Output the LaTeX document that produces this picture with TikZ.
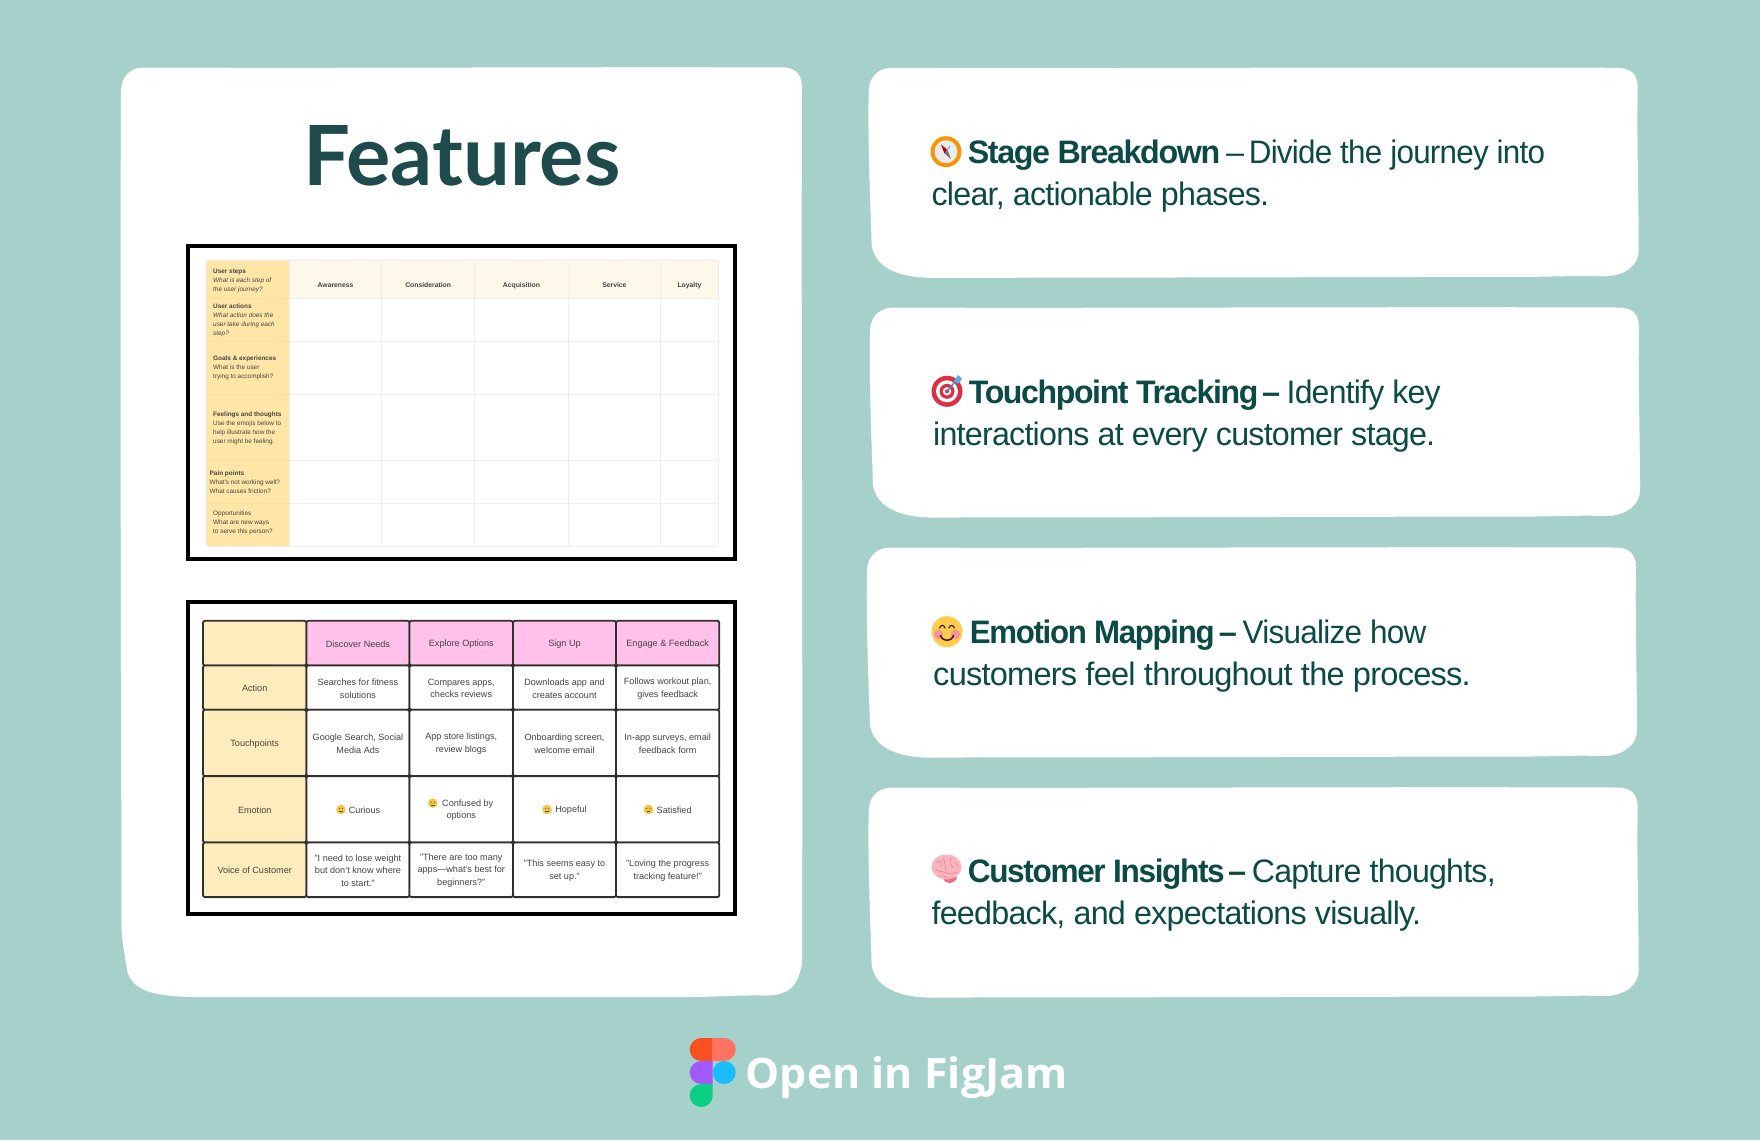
\documentclass[tikz,border=0pt]{standalone}
\usepackage{fontspec}
\setmainfont{Liberation Sans}
\newfontfamily\cardfont[LetterSpace=-2.4,BoldFeatures={LetterSpace=-4.3}]{Liberation Sans}
\newfontfamily\titlefont{Lato}
\newfontfamily\footfont{Open Sans}
\definecolor{bgteal}{HTML}{A6D0CA}
\definecolor{titlecol}{HTML}{1F4B4C}
\definecolor{cardtxt}{HTML}{0C4A46}
\definecolor{yellowA}{HTML}{FFE6A6}
\definecolor{yellowAl}{HTML}{F7E0A0}
\definecolor{creamA}{HTML}{FDF8EA}
\definecolor{gridA}{HTML}{EEEEEE}
\definecolor{yellowB}{HTML}{FEECBC}
\definecolor{pinkB}{HTML}{FFC0EA}
\definecolor{lineB}{HTML}{303030}
\definecolor{txtA}{HTML}{444444}
\definecolor{txtB}{HTML}{444444}
\definecolor{figA}{HTML}{F9501F}
\definecolor{figB}{HTML}{FF7262}
\definecolor{figC}{HTML}{A259FF}
\definecolor{figD}{HTML}{1ABCFE}
\definecolor{figE}{HTML}{0ACF83}
\definecolor{faceY}{HTML}{FFCC4D}
\definecolor{faceS}{HTML}{F5C542}
\definecolor{cheek}{HTML}{F78FA0}
\definecolor{compassO}{HTML}{F79400}
\definecolor{targetR}{HTML}{DD2E44}
\definecolor{dartB}{HTML}{55ACEE}
\definecolor{brainP}{HTML}{F8B5BE}
\definecolor{brainL}{HTML}{EA8595}
\definecolor{brainS}{HTML}{EE6A80}
\tikzset{
  cardshape/.style={fill=white,draw=none},
  cardline/.style={anchor=base west,inner sep=0pt,text=cardtxt,font=\cardfont\fontsize{32.5}{36}\selectfont},
  frameA/.style={draw=black,line width=4pt,fill=white},
  cellA/.style={draw=gridA,line width=1pt,fill=white,inner sep=0pt},
  headA/.style={cellA,fill=creamA,text=txtA,font=\bfseries\fontsize{6.8}{9}\selectfont,text depth=0pt},
  sideA/.style={draw=yellowAl,line width=.8pt,fill=yellowA,inner sep=0pt},
  labelA/.style={anchor=west,inner sep=0pt,align=left,text=txtA,yshift=-.6pt,font=\fontsize{6.4}{9}\selectfont},
  cellB/.style={draw=lineB,line width=1.8pt,rounded corners=2pt,fill=white,inner sep=0pt,align=center,text=txtB,font=\fontsize{9.1}{12.8}\selectfont},
  sideB/.style={cellB,fill=yellowB},
  headB/.style={cellB,fill=pinkB},
}
\newcommand{\fitw}[2]{\resizebox{#1pt}{\height}{#2}}
\newcommand{\cellbox}[7]{\node[#6,minimum width={(#4-#2)*1pt},minimum height={(#5-#3)*1pt}] (#1) at ({(#2+#4)/2},{(#3+#5)/2}) {};
  \if\relax\detokenize{#7}\relax\else
    \node[#6,draw=none,fill=none,yshift=-.8pt] (#1t) at (#1) {#7};
  \fi}
\newcommand{\rightcard}[2]{%
  \fill[cardshape,shift={(#1,#2)}] (22,0) .. controls (200,1) and (500,-1) .. (748,0)
    .. controls (763,0) and (769,7) .. (769,20)
    .. controls (768,70) and (770,130) .. (770,183)
    .. controls (770,198) and (755,208.5) .. (736,208.5)
    .. controls (700,207.5) and (680,209.5) .. (640,209)
    .. controls (400,209.5) and (200,210) .. (58,210)
    .. controls (30,209) and (7,200) .. (3,178)
    .. controls (1,120) and (-1,70) .. (0,22)
    .. controls (1,9) and (9,1) .. (22,0) -- cycle;}
\newcommand{\tinyface}[2]{%
  \fill[faceS] (#1,#2) circle[radius=4.8pt];
  \fill[black!70] (#1-1.6,#2-1) circle[radius=.6pt] (#1+1.6,#2-1) circle[radius=.6pt];
  \draw[black!70,line width=.5pt] (#1-1.8,#2+1.7) -- (#1+1.8,#2+1.7);}
\begin{document}
\begin{tikzpicture}[x=1pt,y=-1pt]
\useasboundingbox (0,0) rectangle (1760,1140);
\fill[bgteal] (0,0) rectangle (1760,1140);
% left card
\fill[cardshape] (142,67.5) .. controls (350,68.5) and (600,66.5) .. (785,67.5)
  .. controls (796,68.5) and (802,75) .. (802,87)
  .. controls (801,300) and (803,650) .. (802,963)
  .. controls (798,990) and (785,996) .. (762,995.5)
  .. controls (740,995) and (715,997) .. (688,997)
  .. controls (500,997) and (300,997) .. (192,997)
  .. controls (140,996) and (128,985) .. (126,963)
  .. controls (124,950) and (122,940) .. (121.5,927)
  .. controls (121,650) and (120,300) .. (121,90)
  .. controls (122,76) and (130,68.5) .. (142,67.5) -- cycle;
\node[anchor=base,inner sep=0pt,text=titlecol,font=\titlefont\bfseries\fontsize{83}{100}\selectfont] (title) at (462,185) {Features};
\begin{scope}[yshift=-.8pt]
% table A
\draw[frameA] (188,245.3) rectangle (735,558);
\begin{scope}
\clip[rounded corners=3pt] (206,259.3) rectangle (718.4,545.7);
\cellbox{a00}{206}{259.3}{289.5}{297.7}{sideA}{}
\cellbox{a10}{206}{297.7}{289.5}{340.3}{sideA}{}
\cellbox{a20}{206}{340.3}{289.5}{393.3}{sideA}{}
\cellbox{a30}{206}{393.3}{289.5}{459.7}{sideA}{}
\cellbox{a40}{206}{459.7}{289.5}{502.3}{sideA}{}
\cellbox{a50}{206}{502.3}{289.5}{545.7}{sideA}{}
\foreach \xa/\xb/\c in {289.5/381.7/1,381.7/474.6/2,474.6/568.3/3,568.3/660.5/4,660.5/718.4/5}{
  \foreach \ya/\yb/\r in {297.7/340.3/1,340.3/393.3/2,393.3/459.7/3,459.7/502.3/4,502.3/545.7/5}{
    \cellbox{a\r\c}{\xa}{\ya}{\xb}{\yb}{cellA}{}
  }
}
\cellbox{a01}{289.5}{259.3}{381.7}{297.7}{headA}{\raisebox{-7pt}{Awareness}}
\cellbox{a02}{381.7}{259.3}{474.6}{297.7}{headA}{\raisebox{-7pt}{Consideration}}
\cellbox{a03}{474.6}{259.3}{568.3}{297.7}{headA}{\raisebox{-7pt}{Acquisition}}
\cellbox{a04}{568.3}{259.3}{660.5}{297.7}{headA}{\raisebox{-7pt}{Service}}
\cellbox{a05}{660.5}{259.3}{718.4}{297.7}{headA}{\raisebox{-7pt}{Loyalty}}
\end{scope}
\draw[gridA,line width=1pt,rounded corners=3pt] (206,259.3) rectangle (718.4,545.7);
\node[labelA] (la0) at (213,279.3) {\textbf{User steps}\\\textit{What is each step of}\\\textit{the user journey?}};
\node[labelA] (la1) at (213,319.3) {\textbf{User actions}\\\textit{What action does the}\\\textit{user take during each}\\\textit{step?}};
\node[labelA] (la2) at (213,366) {\textbf{Goals \& experiences}\\What is the user\\trying to accomplish?};
\node[labelA] (la3) at (213,426.7) {\textbf{Feelings and thoughts}\\Use the emojis below to\\help illustrate how the\\user might be feeling.};
\node[labelA] (la4) at (209.5,481) {\textbf{Pain points}\\What's not working well?\\What causes friction?};
\node[labelA] (la5) at (213,521.7) {Opportunities\\What are new ways\\to serve this person?};
% table B
\draw[frameA] (188,601.3) rectangle (735,913.3);
\cellbox{b00}{203}{620}{306.4}{664.7}{sideB}{}
\cellbox{b01}{306.4}{620}{409.5}{664.7}{headB}{Discover Needs}
\cellbox{b02}{409.5}{620}{513}{664.7}{headB}{Explore Options}
\cellbox{b03}{513}{620}{616}{664.7}{headB}{Sign Up}
\cellbox{b04}{616}{620}{719.3}{664.7}{headB}{Engage \& Feedback}
\cellbox{b10}{203}{664.7}{306.4}{709}{sideB}{Action}
\cellbox{b11}{306.4}{664.7}{409.5}{709}{cellB}{Searches for fitness\\solutions}
\cellbox{b12}{409.5}{664.7}{513}{709}{cellB}{Compares apps,\\checks reviews}
\cellbox{b13}{513}{664.7}{616}{709}{cellB}{Downloads app and\\creates account}
\cellbox{b14}{616}{664.7}{719.3}{709}{cellB}{Follows workout plan,\\gives feedback}
\cellbox{b20}{203}{709}{306.4}{775.3}{sideB}{Touchpoints}
\cellbox{b21}{306.4}{709}{409.5}{775.3}{cellB}{Google Search, Social\\Media Ads}
\cellbox{b22}{409.5}{709}{513}{775.3}{cellB}{App store listings,\\review blogs}
\cellbox{b23}{513}{709}{616}{775.3}{cellB}{Onboarding screen,\\welcome email}
\cellbox{b24}{616}{709}{719.3}{775.3}{cellB}{In-app surveys, email\\feedback form}
\cellbox{b30}{203}{775.3}{306.4}{841.7}{sideB}{Emotion}
\cellbox{b31}{306.4}{775.3}{409.5}{841.7}{cellB}{\hspace*{13pt}Curious}
\cellbox{b32}{409.5}{775.3}{513}{841.7}{cellB}{\hspace*{13pt}Confused by\\options}
\cellbox{b33}{513}{775.3}{616}{841.7}{cellB}{\hspace*{13pt}Hopeful}
\cellbox{b34}{616}{775.3}{719.3}{841.7}{cellB}{\hspace*{13pt}Satisfied}
\cellbox{b40}{203}{841.7}{306.4}{896.3}{sideB}{Voice of Customer}
\cellbox{b41}{306.4}{841.7}{409.5}{896.3}{cellB}{"I need to lose weight\\but don't know where\\to start."}
\cellbox{b42}{409.5}{841.7}{513}{896.3}{cellB}{"There are too many\\apps—what's best for\\beginners?"}
\cellbox{b43}{513}{841.7}{616}{896.3}{cellB}{"This seems easy to\\set up."}
\cellbox{b44}{616}{841.7}{719.3}{896.3}{cellB}{"Loving the progress\\tracking feature!"}
\tinyface{341}{808.7}
\tinyface{432.8}{802.3}
\tinyface{547}{808.7}
\tinyface{648.4}{808.7}
\end{scope}
% right cards
\rightcard{868.7}{67.8}
\rightcard{870}{307.5}
\rightcard{867}{547.5}
\rightcard{868.7}{787.5}
% card 1
\fill[compassO] (946,151.7) circle[radius=15.5pt];
\fill[white!92!black] (946,151.7) circle[radius=11.5pt];
\fill[red!75!black] (941,144.5) -- (947.6,150) -- (944.4,153.4) -- cycle;
\fill[black!55] (951,159) -- (944.4,153.4) -- (947.6,150) -- cycle;
\draw[dartB,line width=1pt] (950,146) -- (946.5,151);
\node[cardline] (c1a) at (967.6,163.2) {\fitw{251}{\textbf{Stage Breakdown}}};
\node[cardline] (c1d) at (1226,163.2) {–};
\node[cardline] (c1r) at (1248.6,163.2) {\fitw{296.3}{Divide the journey into}};
\node[cardline] (c1b) at (931.4,205.5) {\fitw{337.6}{clear, actionable phases.}};
% card 2
\fill[targetR] (947,391.3) circle[radius=15.5pt];
\fill[white] (947,391.3) circle[radius=11pt];
\fill[targetR] (947,391.3) circle[radius=7.5pt];
\fill[white] (947,391.3) circle[radius=4.2pt];
\fill[targetR] (947,391.3) circle[radius=2pt];
\draw[dartB!80!black,line width=1.4pt] (947,391.3) -- (958,378);
\fill[dartB] (954,381) -- (958,375) -- (962,379) -- (958,384) -- cycle;
\node[cardline] (c2a) at (968.7,403.2) {\fitw{288}{\textbf{Touchpoint Tracking}}};
\node[cardline] (c2d) at (1262,403.2) {\textbf{–}};
\node[cardline] (c2r) at (1286.4,403.2) {\fitw{154}{Identify key}};
\node[cardline] (c2b) at (933,445.5) {\fitw{502}{interactions at every customer stage.}};
% card 3
\fill[faceY] (947,631.7) circle[radius=15.5pt];
\fill[cheek] (938.5,634.5) circle[radius=4.6pt] (955.5,634.5) circle[radius=4.6pt];
\draw[black!75!orange,line width=1.2pt,line cap=round] (939.5,628) .. controls (941,624.5) and (944,624.5) .. (945,628);
\draw[black!75!orange,line width=1.2pt,line cap=round] (949,628) .. controls (950,624.5) and (953,624.5) .. (954.5,628);
\draw[black!75!orange,line width=1.6pt,line cap=round] (940.5,635.5) .. controls (943,642) and (951,642) .. (953.5,635.5);
\node[cardline] (c3a) at (969.7,643.2) {\fitw{243.3}{\textbf{Emotion Mapping}}};
\node[cardline] (c3d) at (1218.6,643.2) {\textbf{–}};
\node[cardline] (c3r) at (1242.5,643.2) {\fitw{183.6}{Visualize how}};
\node[cardline] (c3b) at (933,685.5) {\fitw{537.5}{customers feel throughout the process.}};
% card 4
\fill[brainS] (943,878) .. controls (945,885) and (955,885) .. (957,877) -- cycle;
\fill[brainP] (946.5,867) ellipse[x radius=15pt,y radius=12.5pt];
\draw[brainL,line width=.6pt] (936,863) .. controls (939,859) and (942,862) .. (941,867)
  (943,858) .. controls (946,862) and (944,866) .. (946,870)
  (950,858) .. controls (952,862) and (949,866) .. (954,868)
  (956,861) .. controls (955,864) and (957,866) .. (959,866)
  (935,870) .. controls (940,872) and (943,871) .. (947,873)
  (947,873) .. controls (951,875) and (954,873) .. (958,872)
  (939,876) .. controls (942,875) and (944,876) .. (947,878);
\node[cardline] (c4a) at (967.6,882.2) {\fitw{255.6}{\textbf{Customer Insights}}};
\node[cardline] (c4d) at (1228,882.2) {\textbf{–}};
\node[cardline] (c4r) at (1251.7,882.2) {\fitw{243.8}{Capture thoughts,}};
\node[cardline] (c4b) at (931.4,924.5) {\fitw{489.6}{feedback, and expectations visually.}};
% Figma logo
\fill[figA] (712.7,1038) [rounded corners=11.5pt] -- (689.7,1038) -- (689.7,1061) [sharp corners] -- (712.7,1061) -- cycle;
\fill[figB] (712.7,1038) [rounded corners=11.5pt] -- (735.7,1038) -- (735.7,1061) [sharp corners] -- (712.7,1061) -- cycle;
\fill[figC] (712.7,1061) [rounded corners=11.5pt] -- (689.7,1061) -- (689.7,1084) [sharp corners] -- (712.7,1084) -- cycle;
\fill[figD] (724.2,1072.5) circle[radius=11.5pt];
\fill[figE] (712.7,1084) [rounded corners=11.5pt] -- (689.7,1084) -- (689.7,1107) -- (712.7,1107) [sharp corners] -- cycle;
\node[anchor=base west,inner sep=0pt,text=white,font=\footfont\bfseries\fontsize{42}{50}\selectfont] (foot) at (745.5,1088.5) {\fitw{322}{Open in FigJam}};
\end{tikzpicture}
\end{document}
